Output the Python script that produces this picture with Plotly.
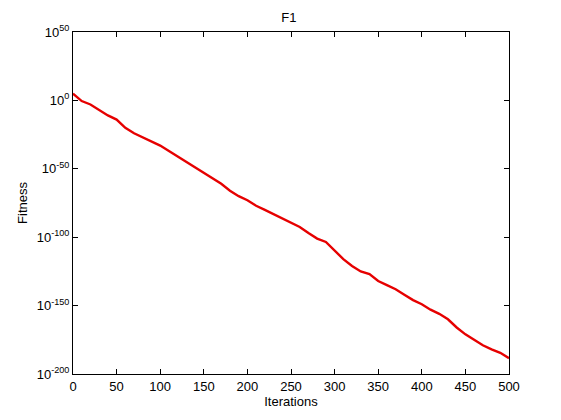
import plotly.graph_objects as go

iterations = list(range(0, 501, 10))
log_fitness = [5, -0.5, -3, -7, -11, -14, -20, -24, -27, -30,
               -33, -37, -41, -45, -49, -53, -57, -61, -66, -70,
               -73, -77, -80, -83, -86, -89, -92.5, -97, -101, -103.5,
               -110, -116, -121, -125, -127, -132, -135, -138, -142, -146,
               -149, -153, -156, -160, -166, -171, -175, -179, -182, -184.5,
               -188.5]
fitness = [10 ** v for v in log_fitness]

x_ticks = list(range(0, 501, 50))
y_tick_exps = [-200, -150, -100, -50, 0, 50]
y_tick_vals = [10.0 ** e for e in y_tick_exps]
y_tick_text = ["10<sup>%d</sup>" % e for e in y_tick_exps]

font = dict(family="Arial, Liberation Sans, sans-serif", size=13, color="black")

fig = go.Figure()
fig.add_trace(go.Scatter(x=iterations, y=fitness, mode="lines",
                         line=dict(color="rgb(230,0,0)", width=2.4),
                         showlegend=False))

axis_common = dict(showgrid=False, zeroline=False, showline=True, linecolor="black",
                   linewidth=1, mirror="ticks", ticks="inside", ticklen=5,
                   tickcolor="black", tickfont=font)

fig.update_layout(
    width=553, height=412,
    margin=dict(l=65, r=52, t=24, b=46, autoexpand=False),
    paper_bgcolor="white", plot_bgcolor="white",
    font=font,
    title=dict(text="F1", x=0.495, xanchor="center", y=0.978, yanchor="middle",
               xref="paper", font=font),
    xaxis=dict(range=[0, 500], tickvals=x_ticks, title=dict(text="Iterations", standoff=0, font=font),
               **axis_common),
    yaxis=dict(type="log", range=[-200, 50], tickvals=y_tick_vals, ticktext=y_tick_text,
               title=dict(text="Fitness", standoff=6, font=font), **axis_common),
)

fig.write_html("out.html")
